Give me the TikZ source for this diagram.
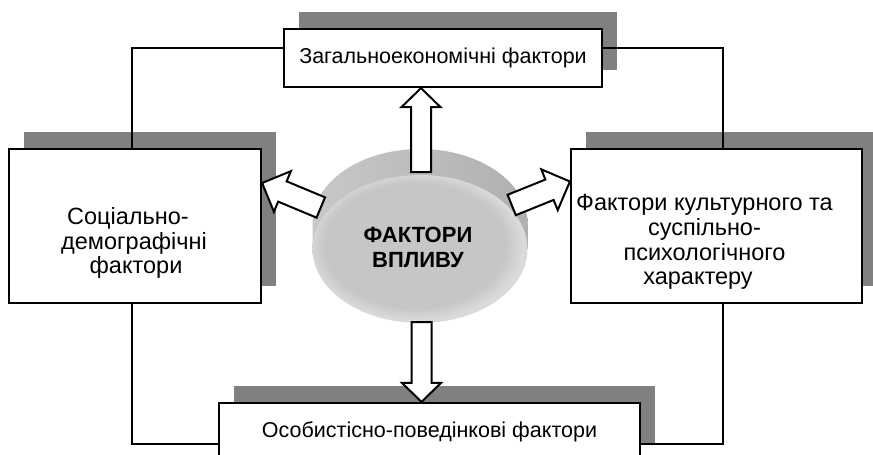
\documentclass[tikz,border=0pt]{standalone}
\usepackage{fontspec}
\setmainfont{Liberation Sans}
\usetikzlibrary{shadows,calc}

\definecolor{rimlight}{HTML}{C8C8C8}
\definecolor{rimdark}{HTML}{B0B0B0}
\definecolor{facegray}{HTML}{C6C6C6}
\definecolor{faceedge}{HTML}{DADADA}

\pgfdeclareradialshading{discface}{\pgfpoint{-2bp}{2bp}}{%
  color(0bp)=(facegray); color(21bp)=(facegray); color(25bp)=(faceedge); color(50bp)=(faceedge)}

\tikzset{
  factorbox/.style={rectangle, draw=black, line width=2.2pt, fill=white, inner sep=0pt,
    drop shadow={shadow xshift=15pt, shadow yshift=17pt, fill=gray, opacity=1}},
  boxtext/.style={font=\fontsize{21.5}{25}\selectfont, align=center, inner sep=0pt},
  sidetext/.style={font=\fontsize{23.5}{24.7}\selectfont, align=center, inner sep=0pt},
  disctext/.style={font=\fontsize{22}{25}\selectfont\bfseries, align=center, inner sep=0pt},
  link/.style={line width=1.6pt, line join=miter},
  blockarr/.style={draw=black, line width=2pt, fill=white, line join=miter},
}

% hollow block arrow from #1 (tail) to #2 (tip);
% #3 half shaft width, #4 half head width, #5 head length
\newcommand{\blkarrow}[5]{%
  \coordinate (hb) at ($(#2)!#5!(#1)$);
  \draw[blockarr]
    ($(#1)!#3!90:(#2)$) -- ($(hb)!#3!90:(#2)$) -- ($(hb)!#4!90:(#2)$) -- (#2)
    -- ($(hb)!#4!-90:(#2)$) -- ($(hb)!#3!-90:(#2)$) -- ($(#1)!#3!-90:(#2)$) -- cycle;
}

\begin{document}
\begin{tikzpicture}[x=1pt,y=-1pt]
\useasboundingbox (0,0) rectangle (873,455);
\clip (0,0) rectangle (873,455);

% factor boxes
\node[factorbox, minimum width=318pt, minimum height=58pt, boxtext] (top) at (443,58)
  {Загальноекономічні фактори};
\node[factorbox, minimum width=252pt, minimum height=154pt] (lbox) at (135,226) {};
\node[factorbox, minimum width=291pt, minimum height=154pt] (rbox) at (716.5,226) {};
\node[factorbox, minimum width=421pt, minimum height=58pt, boxtext] (bot) at (429.5,432)
  {Особистісно-поведінкові фактори};

\node[sidetext] (ltext) at (134,243)
  {Соціально-\hspace*{12pt}\\демографічні\\\hspace*{4pt}фактори};
\node[sidetext] (rtext) at (704.5,242)
  {Фактори культурного та\\суспільно-\hspace*{69pt}\\психологічного\\характеру\hspace*{13pt}};

% connecting frame
\draw[link] ([yshift=10pt]top.west) -| ([xshift=-3pt]lbox.north);
\draw[link] ([yshift=10pt]top.east) -| ([xshift=6.5pt]rbox.north);
\draw[link] ([xshift=-3pt]lbox.south) |- ([yshift=-12pt]bot.west);
\draw[link] ([yshift=-12pt]bot.east) -| ([xshift=6.5pt]rbox.south);

% central disc: rim seen above the front face
\coordinate (disc) at (420,249);
\path[left color=rimlight, right color=rimdark]
  (312.5,249) -- (312.5,223)
  arc[start angle=180, end angle=0, x radius=107.5pt, y radius=74pt]
  -- (527.5,249) -- cycle;
\path[shading=discface] (disc) ellipse [x radius=107.5pt, y radius=74pt];
\node[disctext] (dtext) at (418,247.5) {ФАКТОРИ\\ВПЛИВУ};

% block arrows
\coordinate (upTail) at (421,172);
\coordinate (upTip) at (top.south -| upTail);
\coordinate (dnTail) at (421.5,322);
\coordinate (dnTip) at (bot.north -| dnTail);
\coordinate (lfTail) at (320.8,207.5);
\coordinate (lfTip) at (lbox.east |- 0,183);
\coordinate (rtTail) at (511.7,205);
\coordinate (rtTip) at (rbox.west |- 0,181.5);

\blkarrow{upTail}{upTip}{10pt}{19.5pt}{19pt}
\blkarrow{dnTail}{dnTip}{10pt}{19.5pt}{19pt}
\blkarrow{lfTail}{lfTip}{11pt}{22pt}{22pt}
\blkarrow{rtTail}{rtTip}{11pt}{22pt}{22pt}
\end{tikzpicture}
\end{document}
